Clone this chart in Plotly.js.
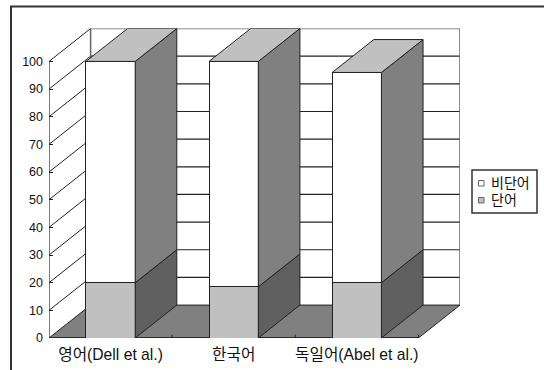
<!DOCTYPE html>
<html>
<head>
<meta charset="utf-8">
<script src="https://cdn.plot.ly/plotly-3.0.1.min.js"></script>
<style>html,body{margin:0;padding:0;background:#fff}#chart{width:544px;height:370px}</style>
</head>
<body>
<div id="chart"></div>
<script>
// Stacked percentages per language
const categories = ['영어(Dell et al.)', '한국어', '독일어(Abel et al.)'];
const wordValues = [20, 18.5, 20];
const nonWordValues = [80, 81.5, 76];
const yTicks = [0, 10, 20, 30, 40, 50, 60, 70, 80, 90, 100];
const wordName = '단어';
const nonWordName = '비단어';

// Oblique projection: depth expressed in axis units
const depthX = 0.338;
const depthY = 11.9;
const barWidth = 0.4;
const xMin = -0.5, xMax = categories.length - 0.5;
const yMax = 100;

const ink = '#222222';
const wallLine = '#666666';
const textColor = '#111111';
const font = 'Liberation Sans, Noto Sans CJK KR, sans-serif';
const pageW = 544, pageH = 370;

function line(x0, y0, x1, y1, color, width) {
  return {type: 'line', xref: 'x', yref: 'y', layer: 'below', x0, y0, x1, y1,
          line: {color: color || ink, width: width || 1}};
}
// Helpers for elements placed in page pixels
const px = v => v / pageW;
const py = v => 1 - v / pageH;

// Walls and floor sit underneath the bars
const shapes = [];
shapes.push({type: 'path', xref: 'x', yref: 'y', layer: 'below',
  path: `M${xMin},0 L${xMax},0 L${xMax + depthX},${depthY} L${xMin + depthX},${depthY} Z`,
  fillcolor: '#808080', line: {color: ink, width: 1}});
yTicks.forEach(v => {
  if (v > 0) {
    shapes.push(line(xMin, v, xMin + depthX, v + depthY, ink, 1));
    shapes.push(line(xMin + depthX, v + depthY, xMax + depthX, v + depthY, v === yMax ? wallLine : ink, v === yMax ? 1.5 : 1.2));
  }
});
shapes.push(line(xMin + depthX, depthY, xMin + depthX, yMax + depthY, wallLine, 1.5));
shapes.push(line(xMax + depthX, depthY, xMax + depthX, yMax + depthY, wallLine, 1.5));
shapes.push(line(xMin, 0, xMin, yMax, ink, 1.2));
shapes.push(line(xMin, 0, xMax, 0, ink, 1.5));
for (let i = 1; i <= categories.length; i++) {
  shapes.push({type: 'line', xref: 'x', yref: 'y', layer: 'below',
    x0: xMin + i, x1: xMin + i, y0: 0, y1: 1.2, line: {color: ink, width: 1}});
}

// Outer chart frame, open towards the right and bottom of the page
shapes.push({type: 'line', xref: 'paper', yref: 'paper', x0: px(10), x1: 1, y0: py(6.5), y1: py(6.5),
  line: {color: '#333333', width: 2}});
shapes.push({type: 'line', xref: 'paper', yref: 'paper', x0: px(11), x1: px(11), y0: py(6), y1: 0,
  line: {color: '#333333', width: 2}});

// Legend box and swatches
const legendRows = [
  {name: nonWordName, color: '#ffffff', y: 183},
  {name: wordName, color: '#c0c0c0', y: 200}
];
shapes.push({type: 'rect', xref: 'paper', yref: 'paper', x0: px(472), x1: px(537), y0: py(170), y1: py(213),
  fillcolor: '#ffffff', line: {color: '#333333', width: 1.5}});
legendRows.forEach(row => {
  shapes.push({type: 'rect', xref: 'paper', yref: 'paper', x0: px(478.5), x1: px(484), y0: py(row.y - 2.5), y1: py(row.y + 3),
    fillcolor: row.color, line: {color: '#666666', width: 1}});
});
const annotations = legendRows.map(row => ({
  xref: 'paper', yref: 'paper', x: px(489), y: py(row.y), xanchor: 'left', yanchor: 'middle',
  text: row.name, showarrow: false, font: {family: font, size: 14, color: textColor}
}));

function face(xs, ys, color) {
  return {type: 'scatter', mode: 'lines', x: xs, y: ys, fill: 'toself', fillcolor: color,
          line: {color: ink, width: 1}, hoverinfo: 'skip', showlegend: false};
}

const traces = [
  {type: 'bar', name: wordName, x: categories.map((_, i) => i), y: wordValues, width: barWidth,
   marker: {color: '#c0c0c0', line: {color: ink, width: 1}}, showlegend: false},
  {type: 'bar', name: nonWordName, x: categories.map((_, i) => i), y: nonWordValues, width: barWidth,
   marker: {color: '#ffffff', line: {color: ink, width: 1}}, showlegend: false}
];

categories.forEach((_, i) => {
  const r = i + barWidth / 2, l = i - barWidth / 2;
  const w = wordValues[i], t = w + nonWordValues[i];
  traces.push(face([r, r + depthX, r + depthX, r, r], [0, depthY, w + depthY, w, 0], '#606060'));
  traces.push(face([r, r + depthX, r + depthX, r, r], [w, w + depthY, t + depthY, t, w], '#808080'));
  traces.push(face([l, l + depthX, r + depthX, r, l], [t, t + depthY, t + depthY, t, t], '#c0c0c0'));
});

const layout = {
  width: pageW, height: pageH,
  margin: {l: 0, r: 0, t: 0, b: 0},
  paper_bgcolor: '#ffffff', plot_bgcolor: 'rgba(0,0,0,0)',
  barmode: 'stack',
  showlegend: false,
  font: {family: font, color: textColor, size: 12},
  xaxis: {domain: [49 / pageW, 460 / pageW], range: [xMin, xMax + depthX], tickmode: 'array',
          tickvals: categories.map((_, i) => i), ticktext: categories, ticklen: 0,
          showgrid: false, zeroline: false, showline: false, ticklabelstandoff: 5,
          tickfont: {family: font, size: 15.7, color: textColor}},
  yaxis: {domain: [32 / pageH, 341.5 / pageH], range: [0, yMax + depthY], tickmode: 'array',
          tickvals: yTicks, ticks: 'inside', ticklen: 4, tickcolor: ink, showgrid: false,
          zeroline: false, showline: false, ticklabelstandoff: 5,
          tickfont: {family: font, size: 12.5, color: textColor}},
  shapes: shapes,
  annotations: annotations
};

Plotly.newPlot('chart', traces, layout, {displayModeBar: false, staticPlot: true});
</script>
</body>
</html>
